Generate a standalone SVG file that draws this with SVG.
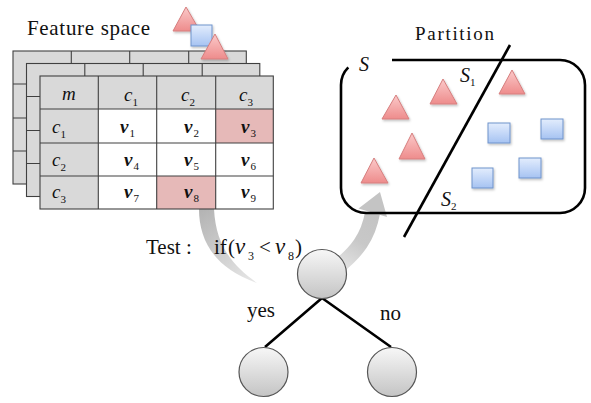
<svg xmlns="http://www.w3.org/2000/svg" width="591" height="403" viewBox="0 0 591 403" font-family="'Liberation Serif','Times New Roman',serif">
<style>
text{font-family:"Liberation Serif","Times New Roman",serif;fill:#111}
.it{font-style:italic}
.v{font-style:italic;font-weight:bold}
.vi{font-style:italic}
.sub{font-size:11px;font-style:normal;font-weight:normal}
.grid{stroke:#404040;stroke-width:1.1;fill:none}
.back{fill:#d9d9d9;stroke:#404040;stroke-width:1.1}
.tri{fill:url(#gTri);stroke:#d67e7e;stroke-width:1;filter:url(#sh)}
.sq{fill:url(#gSq);stroke:#6f93cc;stroke-width:1;filter:url(#sh)}
.node{fill:url(#gNode);stroke:#555;stroke-width:1.2}
.edge{stroke:#000;stroke-width:2.6;fill:none}
</style>
<defs>
<linearGradient id="gTri" x1="0" y1="0" x2="0" y2="1"><stop offset="0" stop-color="#fbcaca"/><stop offset="1" stop-color="#ee8c8c"/></linearGradient>
<linearGradient id="gSq" x1="0" y1="0" x2="0" y2="1"><stop offset="0" stop-color="#e3edfd"/><stop offset="1" stop-color="#a6c3f2"/></linearGradient>
<linearGradient id="gNode" x1="0" y1="0" x2="0" y2="1"><stop offset="0" stop-color="#f7f7f7"/><stop offset="1" stop-color="#c4c4c4"/></linearGradient>
<linearGradient id="gTail" gradientUnits="userSpaceOnUse" x1="205" y1="209" x2="257" y2="283"><stop offset="0" stop-color="#b4b4b4"/><stop offset="1" stop-color="#e8e8e8"/></linearGradient>
<linearGradient id="gBand" gradientUnits="userSpaceOnUse" x1="340" y1="266" x2="372" y2="213"><stop offset="0" stop-color="#e2e2e2"/><stop offset="0.5" stop-color="#c8c8c8"/><stop offset="1" stop-color="#c4c4c4"/></linearGradient>
<filter id="sh" x="-30%" y="-30%" width="160%" height="160%"><feDropShadow dx="1" dy="1.5" stdDeviation="1" flood-color="#000" flood-opacity="0.25"/></filter>
</defs>

<g id="connectors">
<path d="M199,209 C199,240 214,268 257,283 C234,266 216,248 214,209 Z" fill="url(#gTail)"/>
<path d="M339,266 C356,252 368,238 372.5,213" stroke="url(#gBand)" stroke-width="15" fill="none"/>
<polygon points="380,192 358.5,208.5 387,217" fill="#c4c4c4"/>
<path class="edge" d="M322,298 L265,347 M322,298 L391,347"/>
</g>

<g id="table">
<text x="27" y="35" font-size="21" textLength="123">Feature space</text>
<g id="layer-back">
<rect class="back" x="13" y="51" width="233.3" height="133"/>
<path class="grid" d="M71.3,51V184M129.7,51V184M188.7,51V184M13,84H246.3M13,118H246.3M13,151H246.3"/>
</g>
<g id="layer-mid">
<rect class="back" x="26.5" y="63.5" width="233.3" height="133"/>
<path class="grid" d="M84.8,63.5V196.5M143.2,63.5V196.5M202.2,63.5V196.5M26.5,96.5H259.8M26.5,130.5H259.8M26.5,163.5H259.8"/>
</g>
<g id="front">
<rect x="40" y="76" width="233.3" height="133" fill="#fff"/>
<rect x="40" y="76" width="233.3" height="33" fill="#d9d9d9"/>
<rect x="40" y="109" width="58.3" height="100" fill="#d9d9d9"/>
<rect x="215.7" y="109" width="57.6" height="34" fill="#e6b9b8"/>
<rect x="156.7" y="176" width="59" height="33" fill="#e6b9b8"/>
<rect class="grid" x="40" y="76" width="233.3" height="133"/>
<path class="grid" d="M98.3,76V209M156.7,76V209M215.7,76V209M40,109H273.3M40,143H273.3M40,176H273.3"/>
<g font-size="19">
<text class="it" x="62" y="100">m</text>
<text class="it" x="124" y="101">c<tspan class="sub" dy="5">1</tspan></text>
<text class="it" x="181" y="101">c<tspan class="sub" dy="5">2</tspan></text>
<text class="it" x="239" y="101">c<tspan class="sub" dy="5">3</tspan></text>
<text class="it" x="52" y="133">c<tspan class="sub" dy="5">1</tspan></text>
<text class="it" x="52" y="166">c<tspan class="sub" dy="5">2</tspan></text>
<text class="it" x="52" y="198">c<tspan class="sub" dy="5">3</tspan></text>
<text class="v" x="120" y="133">v<tspan class="sub" dy="4" dx="1">1</tspan></text>
<text class="v" x="184" y="133">v<tspan class="sub" dy="4" dx="1">2</tspan></text>
<text class="v" x="241" y="133">v<tspan class="sub" dy="4" dx="1">3</tspan></text>
<text class="v" x="124" y="166">v<tspan class="sub" dy="4" dx="1">4</tspan></text>
<text class="v" x="184" y="166">v<tspan class="sub" dy="4" dx="1">5</tspan></text>
<text class="v" x="241" y="166">v<tspan class="sub" dy="4" dx="1">6</tspan></text>
<text class="v" x="124" y="198">v<tspan class="sub" dy="4" dx="1">7</tspan></text>
<text class="v" x="184" y="198">v<tspan class="sub" dy="4" dx="1">8</tspan></text>
<text class="v" x="241" y="198">v<tspan class="sub" dy="4" dx="1">9</tspan></text>
</g>
</g>
<polygon class="tri" points="186,7 173,31 200,31"/>
<rect class="sq" x="191" y="25" width="21" height="21"/>
<polygon class="tri" points="215,34 201,59 228,59"/>
</g>

<g id="panel">
<text x="415" y="40" font-size="19" textLength="79">Partition</text>
<path d="M392,60 H560 A25,25 0 0 1 585,85 V188 A25,25 0 0 1 560,213 H366 A25,25 0 0 1 341,188 V85 A25,25 0 0 1 348.3,67.3" fill="none" stroke="#000" stroke-width="2.6"/>
<line x1="510" y1="45" x2="404" y2="237" stroke="#000" stroke-width="2.6"/>
<g font-size="20">
<text class="it" x="359" y="71">S</text>
<text class="it" x="460" y="82">S<tspan class="sub" dy="4">1</tspan></text>
<text class="it" x="441" y="206">S<tspan class="sub" dy="4">2</tspan></text>
</g>
<polygon class="tri" points="396,95 382,119 409,119"/>
<polygon class="tri" points="443,79 430,104 457,104"/>
<polygon class="tri" points="412,133 399,159 425,159"/>
<polygon class="tri" points="374,158 361,183 388,183"/>
<polygon class="tri" points="512,70 499,94 525,94"/>
<rect class="sq" x="488" y="123" width="22" height="20"/>
<rect class="sq" x="541" y="119" width="22" height="20"/>
<rect class="sq" x="519" y="158" width="22" height="20"/>
<rect class="sq" x="472" y="168" width="21" height="20"/>
</g>

<g id="test-label" font-size="21">
<text x="146" y="254">Test :</text>
<text x="214" y="254">if</text>
<text x="228" y="254">(</text>
<text class="vi" x="235" y="254" font-size="23">v</text>
<text class="sub" x="248" y="260" style="font-size:12px">3</text>
<text x="259" y="254">&lt;</text>
<text class="vi" x="275" y="254" font-size="23">v</text>
<text class="sub" x="288" y="260" style="font-size:12px">8</text>
<text x="295" y="254">)</text>
</g>

<g id="root"><circle class="node" cx="322" cy="274" r="24.5"/></g>
<g id="yes-child"><circle class="node" cx="263.5" cy="372" r="24.5"/></g>
<g id="no-child"><circle class="node" cx="392" cy="372" r="24.5"/></g>
<g id="edge-labels" font-size="21">
<text x="247" y="317">yes</text>
<text x="380" y="320">no</text>
</g>
</svg>
